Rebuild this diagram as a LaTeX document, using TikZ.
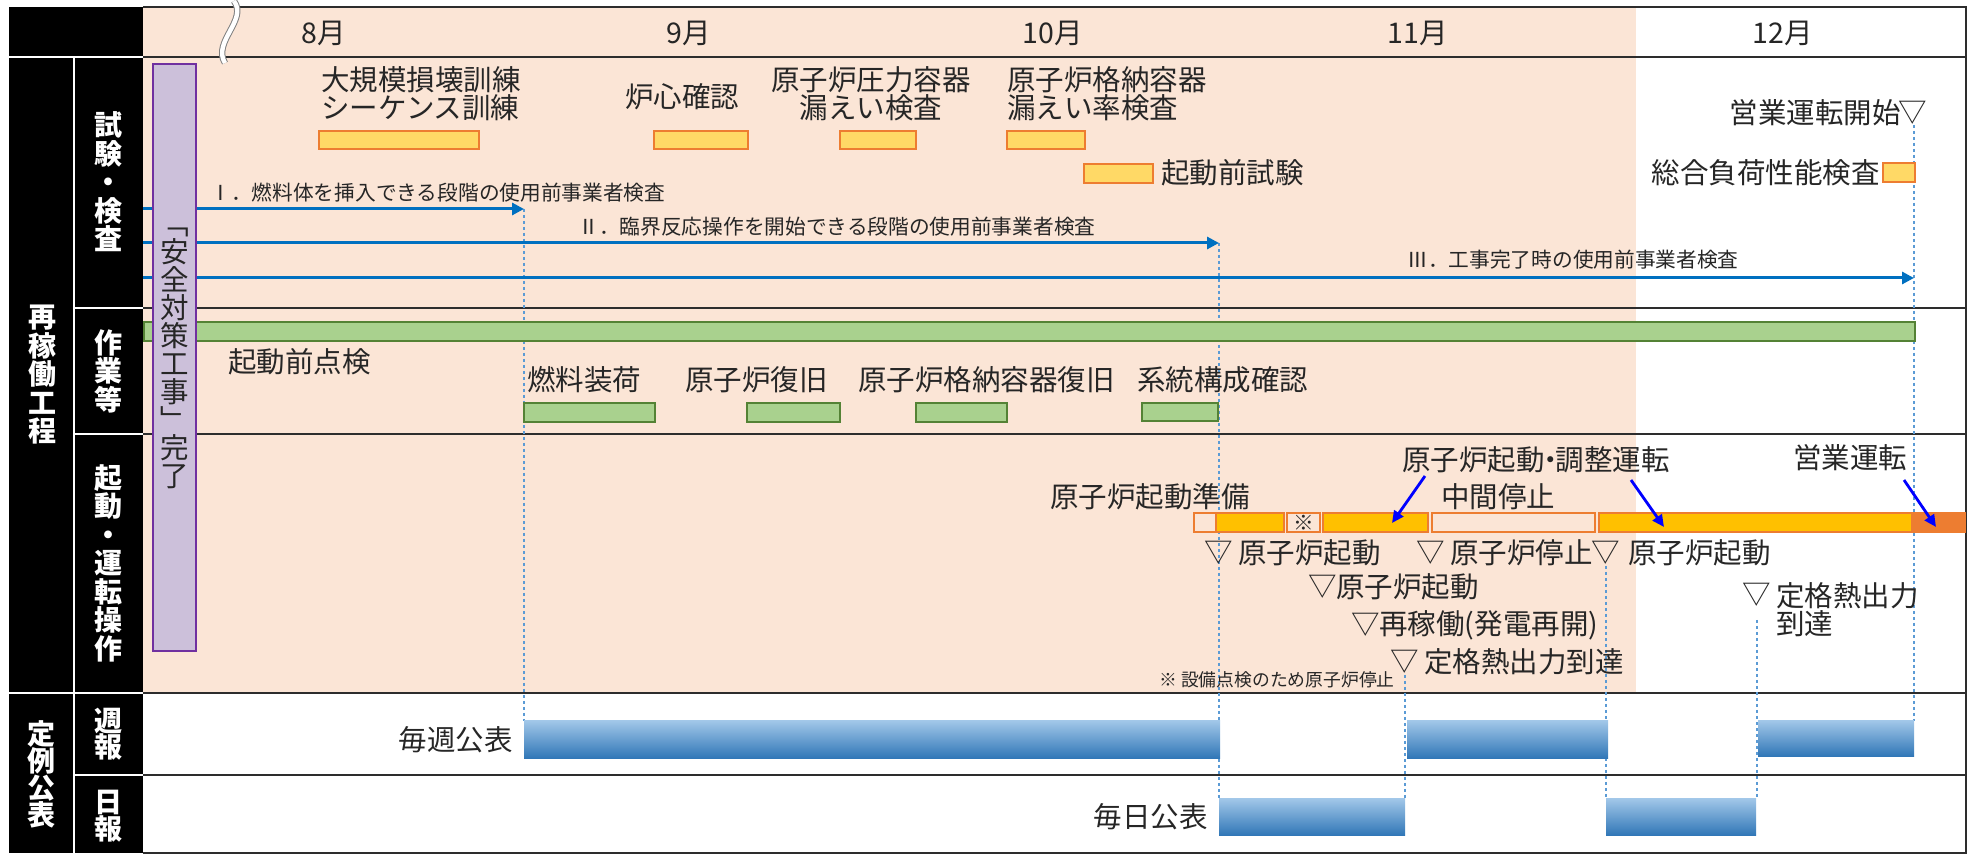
\documentclass[tikz,border=0pt]{standalone}
\usepackage{fontspec}
\setmainfont{Noto Sans CJK JP}
\usetikzlibrary{arrows.meta}

\definecolor{peach}{RGB}{251,229,214}
\definecolor{txt}{RGB}{38,38,38}
\definecolor{gridline}{RGB}{45,45,45}
\definecolor{testfill}{RGB}{255,217,102}
\definecolor{orgline}{RGB}{237,125,49}
\definecolor{opsfill}{RGB}{255,192,0}
\definecolor{grnfill}{RGB}{169,209,142}
\definecolor{grnline}{RGB}{84,130,53}
\definecolor{lavender}{RGB}{204,192,218}
\definecolor{purpline}{RGB}{112,48,160}
\definecolor{insblue}{RGB}{0,112,192}
\definecolor{guideblue}{RGB}{91,155,213}
\definecolor{pubtop}{RGB}{160,198,232}
\definecolor{pubbot}{RGB}{46,117,182}

\tikzset{
  lbl/.style={inner sep=0pt, text=txt, font=\fontsize{14.25}{14}\selectfont},
  smalllbl/.style={inner sep=0pt, text=txt, font=\fontsize{10.35}{10.35}\selectfont},
  notelbl/.style={inner sep=0pt, text=txt, font=\fontsize{8.9}{8.9}\selectfont},
  head/.style={inner sep=0pt, text=white, align=center, font=\fontsize{14}{14.25}\bfseries\selectfont},
  testbar/.style={draw=orgline, fill=testfill, line width=0.9pt},
  workbar/.style={draw=grnline, fill=grnfill, line width=0.8pt},
  opsbar/.style={draw=orgline, line width=0.9pt},
  pubbar/.style={top color=pubtop, bottom color=pubbot, draw=none},
  guide/.style={draw=guideblue, line width=1.3pt, dash pattern=on 1.3pt off 1.7pt},
  insparrow/.style={draw=insblue, line width=1.5pt, -{Triangle[length=6pt,width=6pt]}},
  pointer/.style={draw=blue, line width=1.4pt, -{Triangle[length=6pt,width=5.5pt]}},
  rowline/.style={draw=gridline, line width=1.2pt},
  sepline/.style={draw=white, line width=1pt}
}

\begin{document}
\begin{tikzpicture}[x=0.5pt,y=0.5pt,yscale=-1,xscale=1]
\useasboundingbox (0,0) rectangle (1972,854);

% time points
\coordinate (srcI) at (143,209);
\coordinate (srcII) at (143,243);
\coordinate (srcIII) at (143,278);
\coordinate (tipI) at (524,209);
\coordinate (tipII) at (1219,243);
\coordinate (tipIII) at (1914,278);
\coordinate (ptStart) at (1219,553);
\coordinate (ptRated) at (1405,662);
\coordinate (ptRestart) at (1606,553);
\coordinate (ptRatedB) at (1757,595);
\coordinate (ptComm) at (1913,113);
\coordinate (gdRated) at (1405,675);
\coordinate (gdRestart) at (1606,566);
\coordinate (gdRatedB) at (1757,620);
\coordinate (gdComm) at (1914,125);
\coordinate (wkA) at (524,721);
\coordinate (wkCend) at (1914,721);
\coordinate (dyA) at (1219,799);
\coordinate (dyAend) at (1405,799);
\coordinate (dyB) at (1606,799);
\coordinate (dyBend) at (1757,799);

% backgrounds
\fill[peach] (143,7) rectangle (1636,693);
\fill[black] (9,7) rectangle (143,853);
\draw[sepline] (9,57) -- (143,57);
\draw[sepline] (74,57) -- (74,853);
\draw[sepline] (74,308) -- (143,308);
\draw[sepline] (74,434) -- (143,434);
\draw[sepline] (9,693) -- (143,693);
\draw[sepline] (74,775) -- (143,775);

% grid
\draw[rowline] (143,7) -- (1966,7) -- (1966,853) -- (143,853);
\draw[rowline] (143,57) -- (1966,57);
\draw[rowline] (143,308) -- (1966,308);
\draw[rowline] (143,434) -- (1966,434);
\draw[rowline] (143,693) -- (1966,693);
\draw[rowline] (143,775) -- (1966,775);

% dotted guides
\draw[guide] (tipI) -- (wkA);
\draw[guide] (tipII) -- (dyA);
\draw[guide] (gdRated) -- (dyAend);
\draw[guide] (gdRestart) -- (dyB);
\draw[guide] (gdRatedB) -- (dyBend);
\draw[guide] (gdComm) -- (wkCend);

% months
\node[lbl] (m8) at (324,33) {8月};
\node[lbl] (m9) at (689,33) {9月};
\node[lbl] (m10) at (1053,33) {10月};
\node[lbl] (m11) at (1418,33) {11月};
\node[lbl] (m12) at (1783,33) {12月};
\draw[draw=gray, double=white, double distance=2.2pt, line width=0.5pt] (234,1) .. controls (248,20) and (212,42) .. (225,63);

% tests
\draw[testbar] (319,131) rectangle (479,149);
\draw[testbar] (654,131) rectangle (748,149);
\draw[testbar] (840,131) rectangle (916,149);
\draw[testbar] (1007,131) rectangle (1085,149);
\draw[testbar] (1084,164) rectangle (1153,183);
\draw[testbar] (1883,163) rectangle (1915,182);
\node[lbl, anchor=west, align=left] (lblDrill) at (321,94) {大規模損壊訓練\\シーケンス訓練};
\node[lbl] (lblCore) at (682,97) {炉心確認};
\node[lbl, align=center] (lblVessel) at (871,94) {原子炉圧力容器\\漏えい検査};
\node[lbl, anchor=west, align=left] (lblCv) at (1007,94) {原子炉格納容器\\漏えい率検査};
\node[lbl, anchor=west] (lblPretest) at (1161,173) {起動前試験};
\node[lbl, anchor=east] (lblLoad) at (1880,173) {総合負荷性能検査};
\node[lbl, anchor=east] (lblComm) at (1901,113) {営業運転開始};
\node[lbl] (mkComm) at (ptComm) {▽};

\draw[insparrow] (srcI) -- (tipI);
\draw[insparrow] (srcII) -- (tipII);
\draw[insparrow] (srcIII) -- (tipIII);
\node[smalllbl, anchor=west] (lblInsI) at (210,193) {Ⅰ．燃料体を挿入できる段階の使用前事業者検査};
\node[smalllbl, anchor=west] (lblInsII) at (578,227) {Ⅱ．臨界反応操作を開始できる段階の使用前事業者検査};
\node[smalllbl, anchor=west] (lblInsIII) at (1407,260) {Ⅲ．工事完了時の使用前事業者検査};

% work
\draw[workbar] (144,322) rectangle (1915,341);
\draw[workbar] (524,403) rectangle (655,422);
\draw[workbar] (747,403) rectangle (840,422);
\draw[workbar] (916,403) rectangle (1007,422);
\draw[workbar] (1142,403) rectangle (1218,421);
\node[lbl, anchor=west] (lblCheck) at (228,362) {起動前点検};
\node[lbl, anchor=west] (lblFuel) at (527,380) {燃料装荷};
\node[lbl, anchor=west] (lblRestore) at (685,380) {原子炉復旧};
\node[lbl, anchor=west] (lblCvRestore) at (858,380) {原子炉格納容器復旧};
\node[lbl, anchor=west] (lblSystem) at (1137,380) {系統構成確認};

% safety works done
\draw[draw=purpline, fill=lavender, line width=1pt] (153,64) rectangle (196,651);
\node[lbl, align=center] (lblSafety) at (174.5,358) {﹁\\安\\全\\対\\策\\工\\事\\﹂\\完\\了};

% operation
\draw[opsbar, fill=peach] (1194,513) rectangle (1216,532);
\draw[opsbar, fill=opsfill] (1216,513) rectangle (1284,532);
\draw[opsbar, fill=peach] (1287,513) rectangle (1320,532);
\draw[opsbar, fill=opsfill] (1323,513) rectangle (1428,532);
\draw[opsbar, fill=peach] (1432,513) rectangle (1595,532);
\draw[opsbar, fill=opsfill] (1599,513) rectangle (1912,532);
\fill[orgline] (1912,512) rectangle (1966,533);
\node[smalllbl] (mkNote) at (1303.5,522.5) {※};

\node[lbl] (lblPrep) at (1150,497) {原子炉起動準備};
\node[lbl] (lblAdjust) at (1536,460) {原子炉起動\hspace{-0.3em}・\hspace{-0.3em}調整運転};
\node[lbl] (lblPause) at (1498,497) {中間停止};
\node[lbl] (lblOper) at (1850,458) {営業運転};

\coordinate (ptrA1) at (1425,476);
\coordinate (ptrA2) at (1392,523);
\coordinate (ptrB1) at (1631,480);
\coordinate (ptrB2) at (1664,527);
\coordinate (ptrC1) at (1904,480);
\coordinate (ptrC2) at (1936,527);
\draw[pointer] (ptrA1) -- (ptrA2);
\draw[pointer] (ptrB1) -- (ptrB2);
\draw[pointer] (ptrC1) -- (ptrC2);

\node[lbl] (mkStart) at (ptStart) {▽};
\node[lbl, anchor=west] (lblStart) at (1238,553) {原子炉起動};
\node[lbl] (mkStartB) at (1323,587) {▽};
\node[lbl, anchor=west] (lblStartB) at (1336,587) {原子炉起動};
\node[lbl] (mkStop) at (1431,553) {▽};
\node[lbl, anchor=west] (lblStop) at (1450,553) {原子炉停止};
\node[lbl] (mkResume) at (1366,625) {▽};
\node[lbl, anchor=west] (lblResume) at (1379,625) {再稼働(発電再開)};
\node[lbl] (mkRated) at (ptRated) {▽};
\node[lbl, anchor=west] (lblRated) at (1424,662) {定格熱出力到達};
\node[lbl] (mkRestart) at (ptRestart) {▽};
\node[lbl, anchor=west] (lblRestart) at (1628,553) {原子炉起動};
\node[lbl] (mkRatedB) at (ptRatedB) {▽};
\node[lbl, anchor=west, align=left] (lblRatedB) at (1776,610) {定格熱出力\\到達};
\node[notelbl, anchor=west] (lblNote) at (1159,680) {※ 設備点検のため原子炉停止};

% publication
\draw[pubbar] (wkA) rectangle (1220,759);
\draw[pubbar] (1407,721) rectangle (1608,759);
\draw[pubbar] (1758,721) rectangle (wkCend |- 0,757);
\draw[pubbar] (dyA) rectangle (1405,836);
\draw[pubbar] (dyB) rectangle (1756,836);
\node[lbl, anchor=east] (lblWeekly) at (513,740) {毎週公表};
\node[lbl, anchor=east] (lblDaily) at (1208,817) {毎日公表};

% row heads
\node[head] (hdRestart) at (42,375) {再\\稼\\働\\工\\程};
\node[head, font=\fontsize{14}{13.5}\bfseries\selectfont] (hdPublic) at (41,774) {定\\例\\公\\表};
\node[head] (hdTest) at (108,182) {試\\験\\・\\検\\査};
\node[head] (hdWork) at (108,371) {作\\業\\等};
\node[head] (hdOper) at (108,563) {起\\動\\・\\運\\転\\操\\作};
\node[head, font=\fontsize{14}{13.25}\bfseries\selectfont] (hdWeek) at (108,734) {週\\報};
\node[head, font=\fontsize{14}{13.25}\bfseries\selectfont] (hdDay) at (108,816) {日\\報};
\end{tikzpicture}
\end{document}
